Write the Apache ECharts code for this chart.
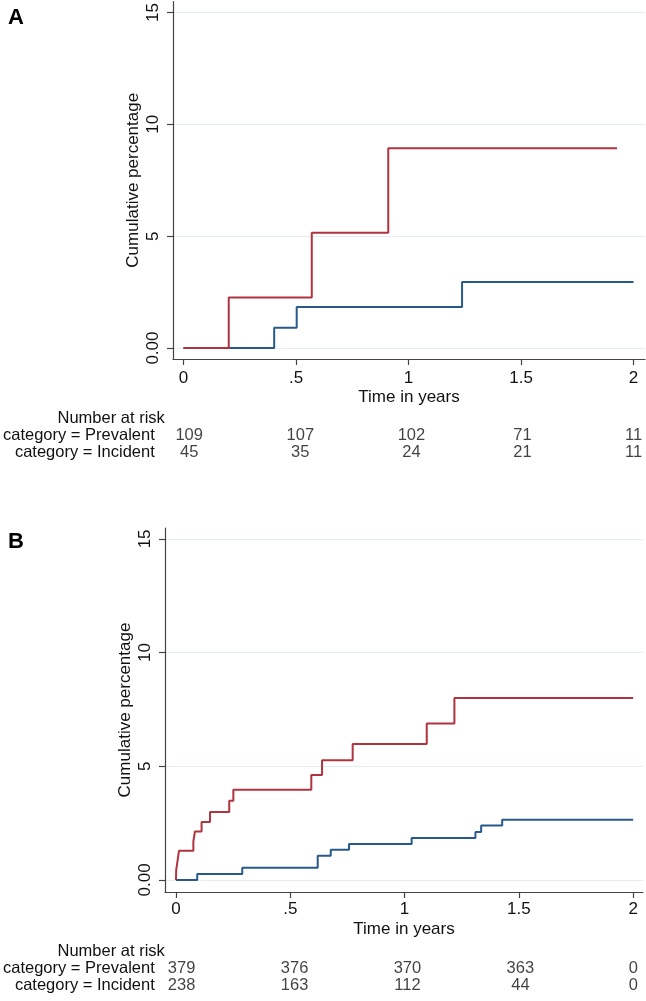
<!DOCTYPE html>
<html>
<head>
<meta charset="utf-8">
<script src="https://cdn.jsdelivr.net/npm/echarts@6/dist/echarts.min.js"></script>
<style>
  html, body { margin: 0; padding: 0; background: #fff; }
  #chart { width: 646px; height: 1001px; }
</style>
</head>
<body>
<div id="chart"></div>
<script>
// panel A: cumulative percentage, step points (time in years, %)
const prevTimeA = [0, 0.201, 0.570, 0.910, 1.927]
const prevPctA = [0, 2.26, 5.15, 8.93, 8.93]
const incTimeA = [0, 0.403, 0.503, 1.238, 2.0]
const incPctA = [0, 0.91, 1.83, 2.95, 2.95]

// panel B
const prevTimeB = [0, 0.001, 0.007, 0.013, 0.076, 0.083, 0.112, 0.149, 0.233, 0.251, 0.592, 0.639, 0.773, 1.097, 1.218, 2.0]
const prevPctB = [0, 0.44, 0.85, 1.28, 1.69, 2.13, 2.55, 2.99, 3.48, 3.97, 4.62, 5.26, 5.98, 6.88, 8.0, 8.0]
const incTimeB = [0, 0.093, 0.29, 0.62, 0.677, 0.757, 1.031, 1.31, 1.335, 1.427, 2.0]
const incPctB = [0, 0.26, 0.54, 1.06, 1.33, 1.58, 1.85, 2.11, 2.39, 2.65, 2.65]

// axes and number at risk table
const xTicks = [0, 0.5, 1, 1.5, 2]
const yTicks = [0, 5, 10, 15]
const riskRows = ['Number at risk', 'category = Prevalent', 'category = Incident']
const riskPrevA = [109, 107, 102, 71, 11]
const riskIncA = [45, 35, 24, 21, 11]
const riskPrevB = [379, 376, 370, 363, 0]
const riskIncB = [238, 163, 112, 44, 0]

const RED = '#b0343f'
const BLUE = '#27598c'
const FONT = "'Liberation Sans', Arial, Helvetica, sans-serif"
const TEXT = '#111111'
const SIZE = 17
const TABLE_SIZE = 16.5

const zip = (xs, ys) => xs.map((x, i) => [x, ys[i]])
const xLabel = (v) => (v === 0.5 ? '.5' : v === 1.5 ? '1.5' : String(v))

const plotX = (gridIndex, min, max, labelMargin, nameGap) => ({
  gridIndex,
  type: 'value',
  min,
  max,
  name: 'Time in years',
  nameLocation: 'middle',
  nameGap,
  nameTextStyle: {fontFamily: FONT, fontSize: SIZE, color: TEXT},
  axisLine: {onZero: false, lineStyle: {color: '#444', width: 1.2}},
  axisTick: {length: 6, customValues: xTicks, lineStyle: {color: '#444', width: 1.2}},
  axisLabel: {customValues: xTicks, margin: labelMargin, fontFamily: FONT, fontSize: SIZE, color: TEXT, formatter: xLabel},
  splitLine: {show: false}
})

const plotY = (gridIndex, min, max) => ({
  gridIndex,
  type: 'value',
  min,
  max,
  name: 'Cumulative percentage',
  nameLocation: 'middle',
  nameRotate: 90,
  nameGap: 31,
  nameMoveOverlap: false,
  nameTextStyle: {fontFamily: FONT, fontSize: SIZE, color: TEXT},
  axisLine: {show: true, onZero: false, lineStyle: {color: '#444', width: 1.2}},
  axisTick: {show: true, length: 6, customValues: yTicks, lineStyle: {color: '#444', width: 1.2}},
  axisLabel: {
    customValues: yTicks, rotate: 90, margin: 11,
    fontFamily: FONT, fontSize: SIZE, color: TEXT,
    formatter: (v) => (v === 0 ? '0.00' : String(v))
  },
  splitLine: {show: true, lineStyle: {color: '#e4edf2', width: 1}}
})

const hiddenX = (gridIndex, min, max) => ({gridIndex, type: 'value', min, max, show: false})

const riskY = (gridIndex, margin) => ({
  gridIndex,
  type: 'category',
  data: riskRows,
  inverse: true,
  axisLine: {show: false},
  axisTick: {show: false},
  splitLine: {show: false},
  axisLabel: {
    interval: 0,
    margin,
    fontFamily: FONT, fontSize: TABLE_SIZE, color: TEXT,
    formatter: (v) => (v === riskRows[0] ? v : v + '{s|}'),
    rich: {s: {width: 10}}
  }
})

const stepLine = (xi, data, color) => ({
  type: 'line',
  xAxisIndex: xi,
  yAxisIndex: xi,
  step: 'end',
  symbol: 'none',
  data,
  lineStyle: {color, width: 2},
  silent: true
})

const riskSeries = (xi, prev, inc) => ({
  type: 'scatter',
  xAxisIndex: xi,
  yAxisIndex: xi,
  symbolSize: 0,
  data: xTicks.map((t, i) => [t, 1, prev[i]]).concat(xTicks.map((t, i) => [t, 2, inc[i]])),
  label: {
    show: true,
    position: 'inside',
    fontFamily: FONT, fontSize: TABLE_SIZE, color: TEXT,
    textBorderWidth: 0,
    formatter: (p) => String(p.value[2])
  },
  silent: true
})

const chart = echarts.init(document.getElementById('chart'), null, {renderer: 'canvas'})

chart.setOption({
  animation: false,
  backgroundColor: '#ffffff',
  title: [
    {text: 'A', left: 3, top: 2, textStyle: {fontFamily: FONT, fontSize: 22, fontWeight: 'bold', color: '#000'}},
    {text: 'B', left: 3, top: 526, textStyle: {fontFamily: FONT, fontSize: 22, fontWeight: 'bold', color: '#000'}}
  ],
  grid: [
    {left: 173, right: 1, top: 1, height: 358},
    {left: 173, right: 1, top: 409.5, height: 51},
    {left: 165, right: 3, top: 528, height: 364},
    {left: 165, right: 3, top: 942.5, height: 51}
  ],
  xAxis: [
    plotX(0, -0.0467, 2.051, 11, 30),
    hiddenX(1, -0.0467, 2.051),
    plotX(2, -0.048, 2.043, 9, 29),
    hiddenX(3, -0.048, 2.043)
  ],
  yAxis: [
    plotY(0, -0.49, 15.49),
    riskY(1, 14),
    plotY(2, -0.53, 15.48),
    riskY(3, 6)
  ],
  series: [
    stepLine(0, zip(incTimeA, incPctA), BLUE),
    stepLine(0, zip(prevTimeA, prevPctA), RED),
    riskSeries(1, riskPrevA, riskIncA),
    stepLine(2, zip(incTimeB, incPctB), BLUE),
    stepLine(2, zip(prevTimeB, prevPctB), RED),
    riskSeries(3, riskPrevB, riskIncB)
  ]
})
</script>
</body>
</html>
